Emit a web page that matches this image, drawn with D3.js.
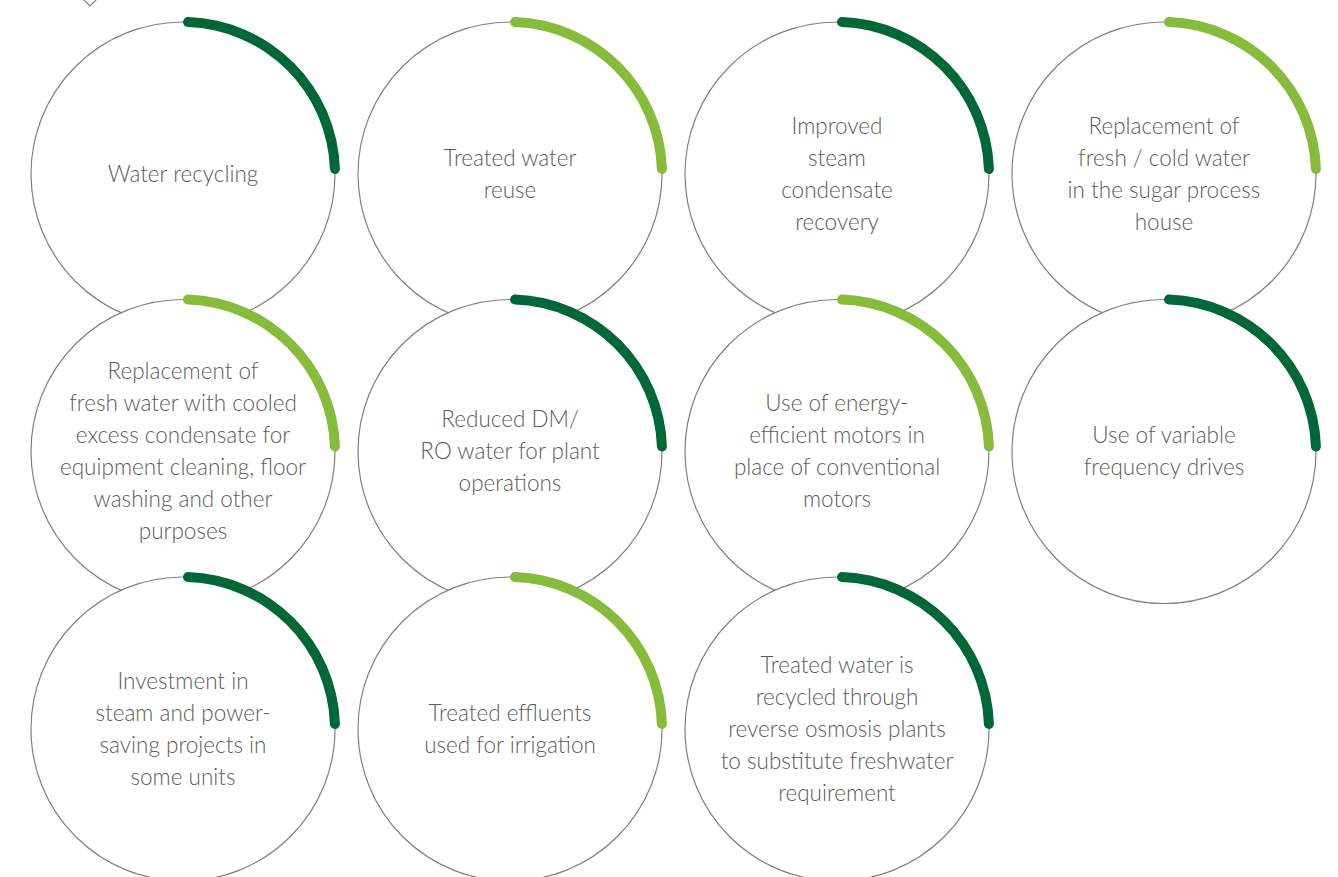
<!DOCTYPE html>
<html>
<head>
<meta charset="utf-8">
<script src="https://cdn.jsdelivr.net/npm/d3@7"></script>
<style>
  body { margin: 0; background: #fff; }
  svg { display: block; }
</style>
</head>
<body>
<div id="chart"></div>
<script>
// one entry per initiative, read left to right, top to bottom
var labels = [
  ["Water recycling"],
  ["Treated water", "reuse"],
  ["Improved", "steam", "condensate", "recovery"],
  ["Replacement of", "fresh / cold water", "in the sugar process", "house"],
  ["Replacement of", "fresh water with cooled", "excess condensate for", "equipment cleaning, floor", "washing and other", "purposes"],
  ["Reduced DM/", "RO water for plant", "operations"],
  ["Use of energy-", "efficient motors in", "place of conventional", "motors"],
  ["Use of variable", "frequency drives"],
  ["Investment in", "steam and power-", "saving projects in", "some units"],
  ["Treated effluents", "used for irrigation"],
  ["Treated water is", "recycled through", "reverse osmosis plants", "to substitute freshwater", "requirement"]
]
var shades = ["dark","light","dark","light","light","dark","light","dark","dark","light","dark"]
var share = [0.25,0.25,0.25,0.25,0.25,0.25,0.25,0.25,0.25,0.25,0.25]
var cols = [0,1,2,3]
var rows = [0,1,2]

var width = 1338, height = 877
var r = 152

var svg = d3.select("#chart").append("svg")
    .attr("width", width)
    .attr("height", height)

var x = d3.scaleLinear().domain([0, 3]).range([183, 1164])
var y = d3.scaleLinear().domain([0, 2]).range([174, 729])
var colour = d3.scaleOrdinal().domain(["dark","light"]).range(["#006838","#86bc3a"])
var angle = d3.scaleLinear().domain([0, 1]).range([0, 2 * Math.PI])

// small marker cut off at the top
svg.append("path")
    .attr("d", "M90,-6 L96,0 L90,6 L84,0 Z")
    .attr("fill", "none")
    .attr("stroke", "#808080")
    .attr("stroke-width", 1.2)

var arc = d3.arc()
    .innerRadius(r - 5)
    .outerRadius(r + 5)
    .cornerRadius(5)
    .startAngle(0)

var g = svg.selectAll(".item")
    .data(labels)
    .enter().append("g")
    .attr("class", "item")
    .attr("transform", function(d, i) {
      return "translate(" + x(cols[i % 4]) + "," + y(rows[Math.floor(i / 4)]) + ")"
    })

g.append("circle")
    .attr("r", r)
    .attr("fill", "#fff")
    .attr("stroke", "#808080")
    .attr("stroke-width", 1.2)

g.append("path")
    .attr("d", function(d, i) { return arc({endAngle: angle(share[i])}) })
    .attr("fill", function(d, i) { return colour(shades[i]) })

g.append("text")
    .attr("text-anchor", "middle")
    .style("font-family", "Lato, sans-serif")
    .style("font-weight", 300)
    .style("font-size", "22.5px")
    .attr("fill", "#5c5c5c")
    .each(function(d) {
      var t = d3.select(this)
      var n = d.length
      d.forEach(function(line, k) {
        t.append("tspan")
          .attr("x", 0)
          .attr("y", (k - (n - 1) / 2) * 32)
          .attr("dy", "0.35em")
          .text(line)
      })
    })
</script>
</body>
</html>
